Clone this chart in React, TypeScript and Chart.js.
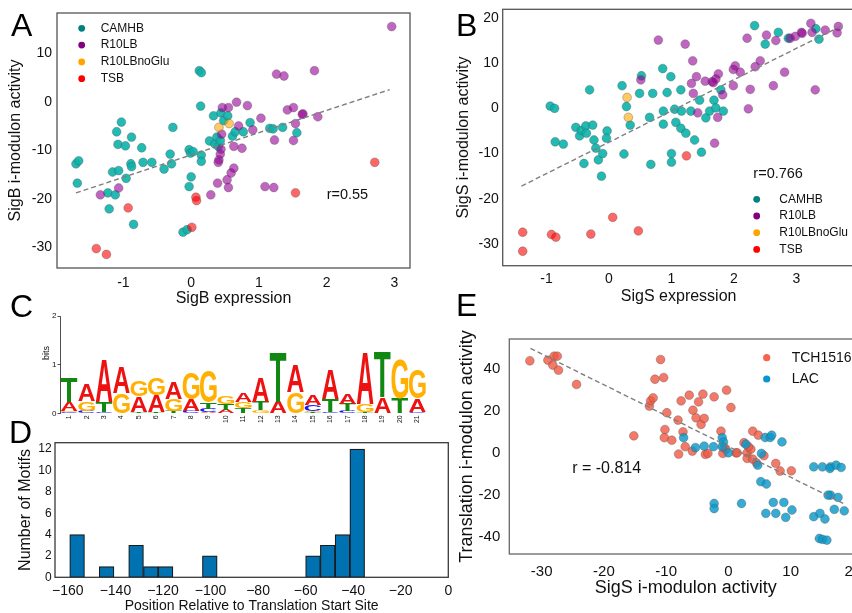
import React, { useEffect, useRef } from "react";
import { Chart, registerables } from "chart.js";
Chart.register(...registerables);

const FONT = "'Liberation Sans', Arial, Helvetica, sans-serif";
const INK = "#111111";

// ---------------- Panel A : SigB ----------------
const aCamhbX = [-1.70, -1.66, -1.68, -1.23, -1.21, -1.16, -1.12, -1.10, -1.08, -1.07, -1.03, -0.97, -0.96, -0.89, -0.88, -0.88, -0.85, -0.73, -0.71, -0.58, -0.40, -0.31, -0.29, -0.27, -0.12, -0.06, -0.03, -0.01, 0.00, -0.03, 0.03, 0.12, 0.15, 0.14, 0.15, 0.15, 0.27, 0.33, 0.35, 0.38, 0.40, 0.43, 0.44, 0.48, 0.54, 0.61, 0.65, 0.77, 0.87, 1.16, 1.21, 1.35, 1.56];
const aCamhbY = [-12.8, -12.2, -16.8, -18.8, -22.1, -14.5, -19.2, -6.2, -8.8, -14.2, -4.2, -9.1, -15.8, -12.8, -13.4, -7.3, -25.3, -9.5, -12.5, -12.5, -13.9, -10.8, -12.8, -5.3, -26.9, -26.4, -9.9, -10.6, -15.5, -17.5, -10.3, 6.4, 6.0, -0.9, -11.0, -12.3, -8.1, -2.9, -8.7, -7.3, -9.2, -8.0, -2.3, -3.9, -2.9, -7.1, -6.2, -6.2, -4.3, -5.5, -5.6, -5.3, -6.4];
const aR10lbX = [-1.34, -1.07, 0.29, 0.39, 0.40, 0.41, 0.43, 0.44, 0.46, 0.45, 0.55, 0.53, 0.55, 0.59, 0.63, 0.63, 0.67, 0.70, 0.75, 0.83, 0.91, 1.03, 1.09, 1.22, 1.23, 1.26, 1.37, 1.42, 1.51, 1.54, 1.51, 1.65, 1.64, 1.82, 1.87, 2.96];
const aR10lbY = [-19.2, -17.8, -19.2, -16.8, -12.5, -12.0, -10.8, -9.8, -1.2, -6.7, -1.2, -16.1, -17.7, -14.7, -13.7, -9.2, -0.1, -5.0, -9.6, -0.8, -5.8, -3.4, -17.5, -17.7, -7.9, 5.7, 5.3, -1.7, -1.2, -4.5, -8.0, -2.5, -2.6, 6.4, -3.1, 15.5];
const aNoGluX = [0.41, 0.56];
const aNoGluY = [-5.3, -4.5];
const aTsbX = [-1.40, -1.25, -0.93, 0.07, 0.08, 0.01, 1.54, 2.71];
const aTsbY = [-30.3, -31.5, -21.9, -19.7, -20.4, -25.9, -18.8, -12.5];
const aFitX = [-1.70, 2.93];
const aFitY = [-18.8, 2.5];
const aXTicks = [-1, 0, 1, 2, 3];
const aYTicks = [-30, -20, -10, 0, 10];
const aR = "r=0.55";
const aRAt = [2.0, -19.2];

// ---------------- Panel B : SigS ----------------
const bCamhbX = [-0.94, -0.87, -0.86, -0.73, -0.53, -0.47, -0.44, -0.37, -0.36, -0.31, -0.26, -0.24, -0.40, -0.21, -0.17, -0.10, -0.12, -0.03, -0.04, 0.21, 0.24, 0.28, 0.34, 0.49, 0.52, 0.65, 0.67, 0.70, 0.86, 0.87, 0.87, 0.93, 0.99, 1.00, 1.00, 1.05, 1.07, 1.15, 1.15, 1.16, 1.23, 1.31, 1.37, 1.45, 1.48, 1.55, 1.61, 1.68, 1.71, 1.79, 1.83, 2.33, 2.50, 2.71, 2.87, 3.31, 3.36];
const bCamhbY = [0.5, 0.0, -7.4, -7.9, -4.2, -6.1, -4.9, -3.9, -5.5, 4.1, -3.7, -7.0, -12.2, -8.8, -11.4, -10.0, -15.0, -5.0, -6.6, 5.0, -10.1, 0.4, -3.7, 3.3, 7.2, -2.0, -12.4, 3.3, 8.8, -3.5, -0.6, 3.5, 7.0, -10.0, -11.9, -0.2, -3.1, 4.1, -4.4, -0.6, -5.5, -0.6, -7.0, 1.8, -9.7, -2.1, -0.6, 1.8, 0.1, 4.1, -0.6, 18.3, 14.2, 16.8, 15.5, 17.6, 15.3];
const bR10lbX = [0.51, 0.79, 1.22, 1.32, 1.34, 1.35, 1.40, 1.42, 1.54, 1.65, 1.67, 1.71, 1.75, 1.74, 1.69, 1.82, 1.99, 1.99, 2.02, 2.10, 2.21, 2.23, 2.26, 2.34, 2.42, 2.52, 2.63, 2.67, 2.81, 2.90, 2.98, 3.08, 3.09, 3.23, 3.25, 3.30, 3.46, 3.67, 3.65];
const bR10lbY = [6.3, 15.1, 14.2, 5.5, 10.5, 3.3, 7.0, -1.0, 6.0, 5.9, 5.7, 6.5, 7.6, -2.0, -7.7, 3.0, 5.0, 8.6, 9.4, 8.0, 15.5, -0.1, 4.2, 9.2, 10.5, 16.2, 5.0, 15.0, 8.0, 15.5, 15.9, 16.8, 16.6, 18.8, 16.8, 4.1, 17.3, 18.1, 16.7];
const bNoGluX = [0.29, 0.31];
const bNoGluY = [2.4, -2.0];
const bTsbX = [-1.38, -1.38, -0.92, -0.85, -0.29, 0.06, 0.47, 1.24];
const bTsbY = [-27.4, -31.6, -27.9, -28.5, -27.8, -24.1, -27.1, -10.5];
const bFitX = [-1.40, 3.74];
const bFitY = [-17.2, 18.4];
const bXTicks = [-1, 0, 1, 2, 3];
const bYTicks = [-30, -20, -10, 0, 10, 20];
const bR = "r=0.766";
const bRAt = [2.31, -14.6];

// ---------------- Panel C : motif logo (bits per position) ----------------
const logoPositions = [1, 2, 3, 4, 5, 6, 7, 8, 9, 10, 11, 12, 13, 14, 15, 16, 17, 18, 19, 20, 21];
const logoA = [0.19, 0.35, 0.87, 0.53, 0.315, 0.35, 0.35, 0.23, 0.02, 0.07, 0.18, 0.51, 0.24, 0.56, 0.22, 0.60, 0.21, 1.06, 0.33, 0.00, 0.27];
const logoC = [0.02, 0.05, 0.03, 0.00, 0.00, 0.00, 0.00, 0.05, 0.07, 0.00, 0.00, 0.00, 0.00, 0.00, 0.12, 0.03, 0.05, 0.00, 0.00, 0.00, 0.03];
const logoG = [0.03, 0.20, 0.00, 0.41, 0.32, 0.355, 0.24, 0.55, 0.65, 0.17, 0.14, 0.06, 0.00, 0.43, 0.03, 0.00, 0.00, 0.17, 0.00, 0.82, 0.58];
const logoT = [0.50, 0.00, 0.20, 0.00, 0.03, 0.02, 0.05, 0.00, 0.14, 0.12, 0.10, 0.18, 1.00, 0.00, 0.025, 0.27, 0.15, 0.03, 0.92, 0.31, 0.00];
const logoYTicks = [0, 1, 2];

// ---------------- Panel D : histogram ----------------
const histEdges = [-159.2, -153.0, -146.8, -140.6, -134.4, -128.2, -122.0, -115.8, -109.6, -103.4, -97.2, -91.0, -84.8, -78.6, -72.4, -66.2, -60.0, -53.8, -47.6, -41.4, -35.2];
const histCounts = [4, 0, 1, 0, 3, 1, 1, 0, 0, 2, 0, 0, 0, 0, 0, 0, 2, 3, 4, 12];
const dXTicks = [-160, -140, -120, -100, -80, -60, -40, -20, 0];
const dYTicks = [0, 2, 4, 6, 8, 10, 12];

// ---------------- Panel E : Translation vs SigS ----------------
const eTchX = [-31.9, -29.0, -28.2, -28.0, -27.5, -27.3, -24.4, -15.2, -12.7, -12.5, -12.1, -11.8, -10.9, -10.4, -9.9, -10.2, -10.3, -9.1, -8.1, -8.0, -7.6, -7.3, -6.95, -6.3, -5.7, -5.8, -5.2, -4.8, -4.4, -4.1, -3.9, -3.7, -3.3, -2.3, -1.2, -0.9, -0.7, -0.4, -0.3, 0.4, 1.2, 1.4, 2.5, 3.0, 3.0, 3.6, 3.9, 3.9, 4.5, 4.8, 5.7, 7.6, 8.3, 10.1, 3.2];
const eTchY = [43.9, 44.2, 41.8, 46.1, 46.1, 39.4, 32.6, 8.1, 22.3, 24.8, 26.2, 35.1, 44.5, 35.9, 19.1, 11.1, 7.2, 6.0, 15.6, -0.6, 24.8, 10.0, 2.9, 27.5, 20.3, 0.8, 16.7, 24.3, 13.5, 28.0, 16.4, -0.8, -0.3, 26.7, 10.3, -0.3, 2.5, 1.7, 29.9, 21.6, 0.0, 0.0, 4.8, 0.0, -2.7, 1.7, 10.3, -3.0, -4.8, 8.4, -1.4, -5.1, -8.7, -8.6, 2.9];
const eLacX = [-7.2, -5.3, -3.9, -2.4, -2.3, -2.3, -1.0, -0.8, -1.0, 0.0, 2.1, 2.8, 4.7, 5.3, 5.2, 6.1, 5.9, 6.7, 6.95, 8.6, 6.0, 7.2, 7.6, 8.9, 9.2, 10.2, 13.7, 13.7, 15.1, 14.7, 15.5, 14.6, 15.1, 15.8, 16.4, 16.3, 16.4, 17.0, 17.3, 17.6, 18.1, 18.6, 16.0];
const eLacY = [7.2, 2.5, 3.2, 2.9, -24.2, -26.6, 7.2, 5.2, 2.9, 0.0, -24.2, 4.1, -5.9, -0.3, -13.8, -14.9, 7.3, 7.3, 8.4, 5.2, -28.9, -23.7, -28.9, -23.7, -30.8, -27.3, -6.7, -30.5, -6.7, -28.9, -31.6, -40.9, -41.3, -41.7, -6.7, -7.5, -20.2, -27.0, -5.9, -21.3, -7.0, -27.7, -20.2];
const eFitX = [-31.8, 18.7];
const eFitY = [49.8, -24.5];
const eXTicks = [-30, -20, -10, 0, 10, 20];
const eYTicks = [-40, -20, 0, 20, 40];
const eR = "r = -0.814";
const eRAt = [-25.1, -7.5];

// ---------------- styling ----------------
const mediaLegend = [
  { label: "CAMHB", color: "#008080" },
  { label: "R10LB", color: "#800080" },
  { label: "R10LBnoGlu", color: "#FFA500" },
  { label: "TSB", color: "#FF0000" },
];
const strainLegend = [
  { label: "TCH1516", color: "#F5644B" },
  { label: "LAC", color: "#0A96CD" },
];
const fillCamhb = "rgba(10,178,170,0.9)";
const fillR10lb = "rgba(150,0,150,0.6)";
const fillNoGlu = "rgba(255,165,0,0.6)";
const fillTsb = "rgba(255,0,0,0.6)";
const fillTch = "rgba(240,88,66,0.8)";
const fillLac = "rgba(10,152,202,0.82)";
const logoColors: Record<string, string> = { A: "#EE1111", C: "#1A1AEE", G: "#FFB000", T: "#118811" };

function pts(xs: number[], ys: number[]) {
  return xs.map((x, i) => ({ x, y: ys[i] }));
}
function scatterSet(label: string, xs: number[], ys: number[], fill: string, order: number) {
  return {
    label,
    data: pts(xs, ys),
    showLine: false,
    pointRadius: 4.4,
    pointBackgroundColor: fill,
    pointBorderColor: "rgba(80,80,80,0.5)",
    pointBorderWidth: 0.7,
    order,
  };
}
function fitSet(xs: number[], ys: number[]) {
  return {
    label: "fit",
    data: pts(xs, ys),
    showLine: true,
    borderColor: "#7f7f7f",
    borderWidth: 1.4,
    borderDash: [5, 3],
    pointRadius: 0,
    fill: false,
    order: 0,
  };
}

type Frame = {
  cw: number; ch: number; left: number; top: number; right: number; bottom: number;
  yTitleX: number; yTitleSize: number; xTitleY: number; xTitleSize: number;
};
function frameLayout(f: Frame) {
  const yLH = f.yTitleSize * 1.2;
  const xLH = f.xTitleSize * 1.2;
  const padL = f.yTitleX - yLH / 2;
  const padB = f.ch - (f.xTitleY + xLH / 2);
  return {
    padding: { left: padL, top: f.top, right: f.cw - f.right, bottom: padB },
    yW: f.left - padL,
    xH: f.ch - padB - f.bottom,
  };
}

function fixSize(size: number, vertical: boolean) {
  return (s: any) => {
    if (vertical) s.width = size;
    else s.height = size;
    s.paddingLeft = 0; s.paddingRight = 0; s.paddingTop = 0; s.paddingBottom = 0;
  };
}

function linAxis(o: {
  min: number; max: number; ticks: number[]; tickSize: number; tickPad: number;
  title?: string; titleSize?: number; size: number; vertical: boolean; fmt?: (v: number) => string;
}) {
  return {
    type: "linear",
    min: o.min,
    max: o.max,
    offset: false,
    grid: { display: false, drawTicks: false, offset: false },
    border: { display: false },
    afterBuildTicks: (s: any) => { s.ticks = o.ticks.map((v) => ({ value: v })); },
    afterFit: fixSize(o.size, o.vertical),
    ticks: {
      font: { family: FONT, size: o.tickSize },
      color: INK,
      padding: o.tickPad,
      autoSkip: false,
      maxRotation: 0,
      minRotation: 0,
      callback: (v: number) => (o.fmt ? o.fmt(v) : String(v)),
    },
    title: o.title
      ? { display: true, text: o.title, font: { family: FONT, size: o.titleSize }, color: INK, padding: 0 }
      : { display: false },
  };
}

function boxPlugin(color: string, lw: number) {
  return {
    id: "box",
    beforeDatasetsDraw(chart: any) {
      const { ctx, chartArea: a } = chart;
      ctx.save();
      ctx.strokeStyle = color;
      ctx.lineWidth = lw;
      ctx.strokeRect(a.left, a.top, a.right - a.left, a.bottom - a.top);
      ctx.restore();
    },
  };
}

function annotPlugin(
  items: { label: string; color: string }[], mx: number, my: number, dy: number, mr: number,
  tx: number, fs: number, rText: string, rAt: number[], rFs: number
) {
  return {
    id: "annot",
    afterDatasetsDraw(chart: any) {
      const ctx = chart.ctx;
      ctx.save();
      ctx.textBaseline = "middle";
      ctx.textAlign = "left";
      items.forEach((it, i) => {
        const y = my + i * dy;
        ctx.beginPath();
        ctx.arc(mx, y, mr, 0, Math.PI * 2);
        ctx.fillStyle = it.color;
        ctx.fill();
        ctx.fillStyle = INK;
        ctx.font = `${fs}px ${FONT}`;
        ctx.fillText(it.label, tx, y);
      });
      const px = chart.scales.x.getPixelForValue(rAt[0]);
      const py = chart.scales.y.getPixelForValue(rAt[1]);
      ctx.font = `${rFs}px ${FONT}`;
      ctx.fillStyle = INK;
      ctx.fillText(rText, px, py);
      ctx.restore();
    },
  };
}

function scatterConfig(f: Frame, datasets: any[], x: any, y: any, plugins: any[]) {
  const L = frameLayout(f);
  return {
    type: "scatter",
    data: { datasets },
    options: {
      responsive: false,
      animation: false,
      events: [],
      layout: { padding: L.padding, autoPadding: false },
      plugins: { legend: { display: false }, tooltip: { enabled: false } },
      scales: {
        x: linAxis({ ...x, size: L.xH, vertical: false, titleSize: f.xTitleSize }),
        y: linAxis({ ...y, size: L.yW, vertical: true, titleSize: f.yTitleSize }),
      },
    },
    plugins,
  };
}

// ---------- panel configs ----------
function makeA() {
  const f: Frame = { cw: 420, ch: 312, left: 57, top: 13, right: 410, bottom: 268, yTitleX: 16, yTitleSize: 16, xTitleY: 298.5, xTitleSize: 16 };
  return scatterConfig(
    f,
    [
      fitSet(aFitX, aFitY),
      scatterSet("CAMHB", aCamhbX, aCamhbY, fillCamhb, 4),
      scatterSet("R10LB", aR10lbX, aR10lbY, fillR10lb, 3),
      scatterSet("R10LBnoGlu", aNoGluX, aNoGluY, fillNoGlu, 2),
      scatterSet("TSB", aTsbX, aTsbY, fillTsb, 1),
    ],
    { min: -1.98, max: 3.23, ticks: aXTicks, tickSize: 14, tickPad: 6.4, title: "SigB expression" },
    { min: -34.3, max: 18.3, ticks: aYTicks, tickSize: 14, tickPad: 5, title: "SigB i-modulon activity" },
    [boxPlugin("#555555", 1.3), annotPlugin(mediaLegend, 81.7, 28.3, 16.8, 3.4, 100.7, 12, aR, aRAt, 14.5)]
  );
}
function makeB() {
  const f: Frame = { cw: 460, ch: 312, left: 82.7, top: 9.3, right: 434.6, bottom: 265.7, yTitleX: 43.3, yTitleSize: 16, xTitleY: 296.7, xTitleSize: 16 };
  return scatterConfig(
    f,
    [
      fitSet(bFitX, bFitY),
      scatterSet("CAMHB", bCamhbX, bCamhbY, fillCamhb, 4),
      scatterSet("R10LB", bR10lbX, bR10lbY, fillR10lb, 3),
      scatterSet("R10LBnoGlu", bNoGluX, bNoGluY, fillNoGlu, 2),
      scatterSet("TSB", bTsbX, bTsbY, fillTsb, 1),
    ],
    { min: -1.7, max: 3.93, ticks: bXTicks, tickSize: 14, tickPad: 5, title: "SigS expression" },
    { min: -34.8, max: 21.9, ticks: bYTicks, tickSize: 14, tickPad: 4, title: "SigS i-modulon activity" },
    [boxPlugin("#555555", 1.3), annotPlugin(mediaLegend, 336.7, 199.3, 16.7, 3.4, 359.3, 12, bR, bRAt, 14.5)]
  );
}
function makeE() {
  const f: Frame = { cw: 440, ch: 313, left: 69.3, top: 39, right: 422.3, bottom: 254, yTitleX: 26.7, yTitleSize: 18, xTitleY: 287.7, xTitleSize: 18 };
  return scatterConfig(
    f,
    [
      fitSet(eFitX, eFitY),
      scatterSet("TCH1516", eTchX, eTchY, fillTch, 2),
      scatterSet("LAC", eLacX, eLacY, fillLac, 1),
    ],
    { min: -35.2, max: 21.5, ticks: eXTicks, tickSize: 15, tickPad: 8.9, title: "SigS i-modulon activity" },
    { min: -48.3, max: 54.3, ticks: eYTicks, tickSize: 15, tickPad: 9, title: "Translation i-modulon activity" },
    [boxPlugin("#666666", 1.3), annotPlugin(strainLegend, 326.7, 57.7, 21.3, 3.6, 351.7, 14, eR, eRAt, 16)]
  );
}
function makeD() {
  const f: Frame = { cw: 460, ch: 192, left: 55, top: 17.7, right: 448.3, bottom: 152.3, yTitleX: 26, yTitleSize: 16, xTitleY: 180.9, xTitleSize: 14 };
  const L = frameLayout(f);
  const bars = histCounts.map((c, i) => ({ x: (histEdges[i] + histEdges[i + 1]) / 2, y: c }));
  const minus = (v: number) => (v < 0 ? "\u2212" + Math.abs(v) : String(v));
  return {
    type: "bar",
    data: {
      datasets: [
        {
          label: "motifs",
          data: bars,
          backgroundColor: "#0072B2",
          borderColor: "#1a1a1a",
          borderWidth: 1.2,
          borderSkipped: false,
          barPercentage: 1,
          categoryPercentage: 1,
        },
      ],
    },
    options: {
      responsive: false,
      animation: false,
      events: [],
      layout: { padding: L.padding, autoPadding: false },
      plugins: { legend: { display: false }, tooltip: { enabled: false } },
      scales: {
        x: linAxis({ min: -165.4, max: 0, ticks: dXTicks, tickSize: 14, tickPad: 5.1, title: "Position Relative to Translation Start Site", titleSize: 14, size: L.xH, vertical: false, fmt: minus }),
        y: linAxis({ min: 0, max: 12.6, ticks: dYTicks, tickSize: 12, tickPad: 3.3, title: "Number of Motifs", titleSize: 16, size: L.yW, vertical: true }),
      },
    },
    plugins: [boxPlugin("#3a3a3a", 1.3)],
  };
}

function drawLetter(ctx: CanvasRenderingContext2D, L: string, x: number, y: number, w: number, h: number, color: string) {
  if (h <= 0.2 || w <= 0) return;
  ctx.save();
  ctx.font = `bold 100px ${FONT}`;
  ctx.textAlign = "left";
  ctx.textBaseline = "alphabetic";
  const m = ctx.measureText(L);
  const gw = m.actualBoundingBoxLeft + m.actualBoundingBoxRight;
  const gh = m.actualBoundingBoxAscent + m.actualBoundingBoxDescent;
  ctx.translate(x, y);
  ctx.scale(w / gw, h / gh);
  ctx.fillStyle = color;
  ctx.fillText(L, m.actualBoundingBoxLeft, m.actualBoundingBoxAscent);
  ctx.restore();
}

function makeLogo() {
  const cw = 440, ch = 135, left = 60.5, top = 26, right = 426, bottom = 123.3;
  const padL = 41.3;
  const logoPlugin = {
    id: "logo",
    afterDatasetsDraw(chart: any) {
      const { ctx, scales } = chart;
      const xs = scales.x, ys = scales.y;
      logoPositions.forEach((p, i) => {
        const stack = [
          ["A", logoA[i]], ["C", logoC[i]], ["G", logoG[i]], ["T", logoT[i]],
        ].filter((s) => (s[1] as number) > 0).sort((a, b) => (a[1] as number) - (b[1] as number));
        let base = 0;
        const x0 = xs.getPixelForValue(p - 0.48);
        const x1 = xs.getPixelForValue(p + 0.48);
        for (const [L, h] of stack) {
          const yb = ys.getPixelForValue(base);
          const yt = ys.getPixelForValue(base + (h as number));
          drawLetter(ctx, L as string, x0, yt, x1 - x0, yb - yt, logoColors[L as string]);
          base += h as number;
        }
      });
      ctx.save();
      ctx.translate(46.7, 63);
      ctx.rotate(-Math.PI / 2);
      ctx.font = `9px ${FONT}`;
      ctx.fillStyle = INK;
      ctx.textAlign = "center";
      ctx.textBaseline = "middle";
      ctx.fillText("bits", 0, 0);
      ctx.restore();
    },
  };
  return {
    type: "scatter",
    data: { datasets: [{ label: "none", data: [] }] },
    options: {
      responsive: false,
      animation: false,
      events: [],
      layout: { padding: { left: padL, top, right: cw - right, bottom: 0 }, autoPadding: false },
      plugins: { legend: { display: false }, tooltip: { enabled: false } },
      scales: {
        x: {
          type: "linear", min: 0.5, max: 21.5, offset: false,
          grid: { display: false, drawTicks: false },
          border: { display: false },
          afterBuildTicks: (s: any) => { s.ticks = logoPositions.map((v) => ({ value: v })); },
          afterFit: fixSize(ch - bottom, false),
          ticks: { font: { family: FONT, size: 7 }, color: INK, padding: 2, autoSkip: false, minRotation: 90, maxRotation: 90, callback: (v: number) => String(v) },
        },
        y: {
          type: "linear", min: 0, max: 2, offset: false,
          grid: { display: true, drawOnChartArea: false, drawTicks: true, tickLength: 3, color: "#222", lineWidth: 0.8 },
          border: { display: true, color: "#222", width: 0.8 },
          afterBuildTicks: (s: any) => { s.ticks = logoYTicks.map((v) => ({ value: v })); },
          afterFit: fixSize(left - padL, true),
          ticks: { font: { family: FONT, size: 8 }, color: INK, padding: 1, autoSkip: false, callback: (v: number) => String(v) },
        },
      },
    },
    plugins: [logoPlugin],
  };
}

function ChartBox(props: { left: number; top: number; width: number; height: number; make: () => any }) {
  const ref = useRef<HTMLCanvasElement | null>(null);
  useEffect(() => {
    const chart = new Chart(ref.current as HTMLCanvasElement, props.make());
    return () => chart.destroy();
  }, []);
  return (
    <canvas
      ref={ref}
      width={props.width}
      height={props.height}
      style={{ position: "absolute", left: props.left, top: props.top, width: props.width, height: props.height }}
    />
  );
}

const letterStyle = (left: number, top: number): React.CSSProperties => ({
  position: "absolute",
  left,
  top,
  fontFamily: FONT,
  fontSize: 32,
  lineHeight: "32px",
  color: "#000",
  margin: 0,
});

export default function App() {
  return (
    <div style={{ position: "fixed", left: 0, top: 0, width: 852, height: 613, overflow: "hidden", background: "#fff" }}>
      <ChartBox left={0} top={290} width={440} height={135} make={makeLogo} />
      <ChartBox left={0} top={425} width={460} height={192} make={makeD} />
      <ChartBox left={0} top={0} width={420} height={312} make={makeA} />
      <ChartBox left={420} top={0} width={460} height={312} make={makeB} />
      <ChartBox left={440} top={300} width={440} height={313} make={makeE} />
      <div style={letterStyle(11, 9)}>A</div>
      <div style={letterStyle(456, 9)}>B</div>
      <div style={letterStyle(10, 290)}>C</div>
      <div style={letterStyle(9, 416)}>D</div>
      <div style={letterStyle(456, 289)}>E</div>
    </div>
  );
}
